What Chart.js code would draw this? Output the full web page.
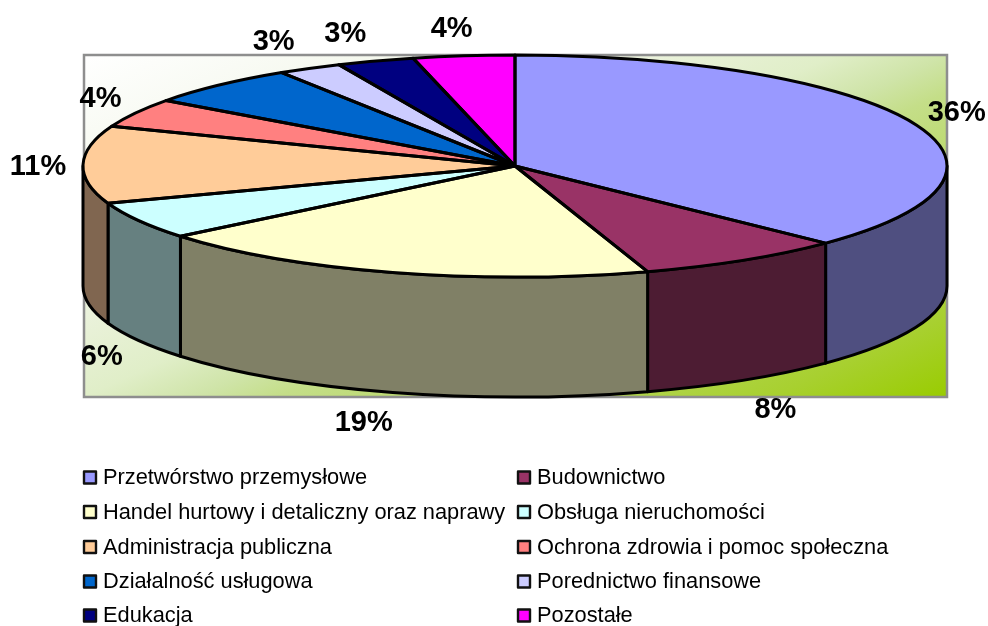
<!DOCTYPE html>
<html><head><meta charset="utf-8">
<style>html,body{margin:0;padding:0;background:#fff}canvas{display:block}</style>
<script src="https://cdn.jsdelivr.net/npm/chart.js@4"></script>
</head><body><canvas id="c" width="988" height="626"></canvas>
<script>
const categories = ["Przetwórstwo przemysłowe","Budownictwo","Handel hurtowy i detaliczny oraz naprawy","Obsługa nieruchomości","Administracja publiczna","Ochrona zdrowia i pomoc społeczna","Działalność usługowa","Porednictwo finansowe","Edukacja","Pozostałe"];
const shares = [37.3,7.82,19.1,5.47,11.3,4.2,5.9,2.4,2.9,3.8];
// percentages as printed on the chart (one slice carries no label)
const printedLabels = ["36%","8%","19%","6%","11%","4%","","3%","3%","4%"];
const colors = ["#9999FF","#993366","#FFFFCC","#CCFFFF","#FFCC99","#FF8080","#0066CC","#CCCCFF","#000080","#FF00FF"];
const wallColors = ["#4F4F80","#4D1C33","#808066","#668080","#806650","#804040","#003366","#666680","#000040","#800080"];

const RX = 432, RY = 111, DEPTH = 120;
const FRAME = {l:84, t:55, r:947, b:397};
const labelNudge = [[44,-10],[32,30],[-29,31],[-37,16],[-45,2],[-35,-14],[0,0],[-36,-26],[-30,-27],[-12,-27]];

function centre(chart){ const a = chart.getDatasetMeta(0).data[0]; return {x:a.x, y:a.y}; }

const pie3d = {
  id:'pie3d',
  beforeDraw(chart){
    const c = chart.ctx;
    c.save();
    c.fillStyle = '#fff'; c.fillRect(0,0,chart.width,chart.height);
    const g = c.createLinearGradient(FRAME.l,FRAME.t,FRAME.l+277,FRAME.t+609);
    g.addColorStop(0,'#FFFFFF'); g.addColorStop(0.326,'#EDF3E0'); g.addColorStop(0.465,'#E0EEC8');
    g.addColorStop(0.535,'#CFE4A8'); g.addColorStop(0.585,'#C4DE88'); g.addColorStop(0.89,'#A8D030'); g.addColorStop(1,'#99CC00');
    c.fillStyle = g;
    c.fillRect(FRAME.l,FRAME.t,FRAME.r-FRAME.l,FRAME.b-FRAME.t);
    c.strokeStyle = '#8E8E8E'; c.lineWidth = 2.5;
    c.strokeRect(FRAME.l,FRAME.t,FRAME.r-FRAME.l,FRAME.b-FRAME.t);
    c.restore();
  },
  beforeDatasetsDraw(chart){
    const c = chart.ctx, {x:cx,y:cy} = centre(chart);
    const arcs = chart.getDatasetMeta(0).data;
    c.save();
    c.lineWidth = 3; c.strokeStyle = '#000'; c.lineJoin='round';
    const tw = 2*Math.PI;
    arcs.forEach((a,i)=>{
      // clip the slice's angular span to the visible front half (0..PI in canvas angles)
      const s = ((a.startAngle%tw)+tw)%tw, e = s + (a.endAngle-a.startAngle);
      [0,-tw].forEach(off=>{
        const t1 = Math.max(s+off,0), t2 = Math.min(e+off,Math.PI);
        if (t2 <= t1) return;
        c.beginPath();
        c.ellipse(cx,cy,RX,RY,0,t1,t2,false);
        c.ellipse(cx,cy+DEPTH,RX,RY,0,t2,t1,true);
        c.closePath();
        c.fillStyle = wallColors[i];
        c.fill(); c.stroke();
      });
    });
    c.restore();
    c.save();
    c.translate(cx,cy); c.scale(1,RY/RX); c.translate(-cx,-cy);
  },
  afterDatasetsDraw(chart){
    const c = chart.ctx; c.restore();
    const {x:cx,y:cy} = centre(chart);
    const arcs = chart.getDatasetMeta(0).data;
    c.save();
    c.strokeStyle='#000'; c.lineWidth=3; c.lineJoin='round';
    arcs.forEach(a=>{
      c.beginPath();
      c.moveTo(cx,cy);
      c.ellipse(cx,cy,RX,RY,0,a.startAngle,a.endAngle,false);
      c.closePath();
      c.stroke();
    });
    // percentage labels
    c.fillStyle='#000'; c.font='bold 29px "Liberation Sans", Arial, sans-serif';
    c.textAlign='center'; c.textBaseline='middle';
    arcs.forEach((a,i)=>{
      if(!printedLabels[i]) return;
      const m=(a.startAngle+a.endAngle)/2;
      const px=cx+RX*Math.cos(m), py=cy+RY*Math.sin(m)+(Math.sin(m)>0?DEPTH:0);
      c.fillText(printedLabels[i],px+labelNudge[i][0],py+labelNudge[i][1]);
    });
    // legend, two columns, row-first
    const rows=[478,512.5,547.5,582,616], colSwatch=[84,518], colText=[103,537];
    c.font='21.8px "Liberation Sans", Arial, sans-serif'; c.textAlign='left';
    categories.forEach((t,i)=>{
      const col=i%2, y=rows[Math.floor(i/2)];
      c.fillStyle=colors[i]; c.fillRect(colSwatch[col],y-6.5,12,12);
      c.strokeStyle='#111'; c.lineWidth=2.4; c.strokeRect(colSwatch[col],y-6.5,12,12);
      c.fillStyle='#000'; c.fillText(t,colText[col],y);
    });
    c.restore();
  }
};

new Chart(document.getElementById('c').getContext('2d'),{
  type:'pie',
  data:{labels:categories,datasets:[{data:shares,backgroundColor:colors,borderWidth:0,clip:false}]},
  options:{
    responsive:false,animation:false,radius:RX,rotation:0,
    layout:{padding:{left:42,right:0,top:0,bottom:294}},
    plugins:{legend:{display:false},tooltip:{enabled:false}}
  },
  plugins:[pie3d]
});
</script></body></html>
